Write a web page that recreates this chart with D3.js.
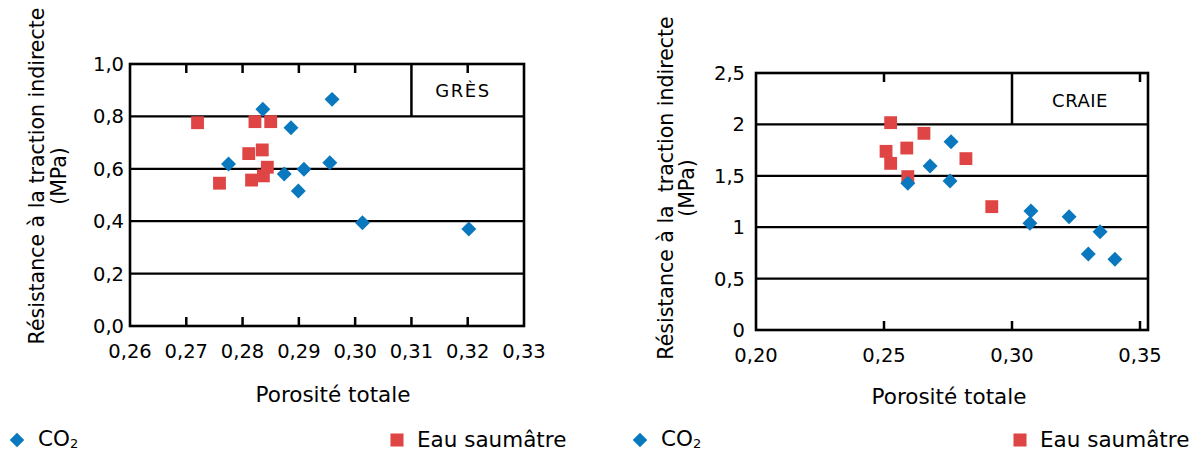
<!DOCTYPE html>
<html><head><meta charset="utf-8">
<script src="https://cdn.jsdelivr.net/npm/d3@7"></script>
<style>
body{margin:0;background:#fff;}
svg{display:block;font-family:"DejaVu Sans",sans-serif;}
</style></head>
<body>
<svg id="c" width="1202" height="452"></svg>
<script>
// ---- Data ----
const gresXTicks = [0.26,0.27,0.28,0.29,0.30,0.31,0.32,0.33];
const gresYTicks = [0,0.2,0.4,0.6,0.8,1.0];
const gresCO2 = [
  [0.2836,0.827],[0.2959,0.865],[0.2886,0.757],[0.2775,0.618],[0.2874,0.580],
  [0.2909,0.598],[0.2955,0.623],[0.2899,0.515],[0.3013,0.394],[0.3202,0.370]
];
const gresEau = [
  [0.2720,0.776],[0.2822,0.780],[0.2850,0.780],[0.2811,0.658],[0.2835,0.672],
  [0.2844,0.606],[0.2837,0.573],[0.2816,0.557],[0.2759,0.545]
];
const craieXTicks = [0.20,0.25,0.30,0.35];
const craieYTicks = [0,0.5,1,1.5,2,2.5];
const craieCO2 = [
  [0.2762,1.832],[0.2680,1.595],[0.2758,1.449],[0.2593,1.427],[0.3074,1.158],
  [0.3070,1.038],[0.3223,1.102],[0.3344,0.956],[0.3298,0.739],[0.3402,0.688]
];
const craieEau = [
  [0.2526,2.017],[0.2656,1.913],[0.2589,1.770],[0.2508,1.738],[0.2526,1.621],
  [0.2820,1.667],[0.2593,1.492],[0.2921,1.200]
];
const seriesNames = ["CO","Eau saumâtre"];
const yTitle = ["Résistance à la traction indirecte","Résistance à la\u00a0 traction indirecte"];
const xTitle = "Porosité totale";
const panelNames = ["GRÈS","CRAIE"];

const BLUE = "#0a78be", RED = "#e04545";
const svg = d3.select("#c");

function fmtX(v){ return v.toFixed(2).replace(".",","); }

function panel(opt){
  const g = svg.append("g");
  const {x,y,left,right,top,bottom} = opt;
  // gridlines
  g.selectAll("line.grid").data(opt.yTicks.filter(v=>v>opt.yTicks[0] && v<opt.yTicks[opt.yTicks.length-1]))
    .enter().append("line")
    .attr("x1",left).attr("x2",right).attr("y1",d=>y(d)).attr("y2",d=>y(d))
    .attr("stroke","#000").attr("stroke-width",2.2);
  // inner ticks top & bottom
  const inner = opt.xTicks.filter(v=>x(v)>left+3 && x(v)<right-3 && v!==opt.boxX);
  g.selectAll("line.tb").data(inner).enter().append("line")
    .attr("x1",d=>x(d)).attr("x2",d=>x(d)).attr("y1",top).attr("y2",top+9)
    .attr("stroke","#000").attr("stroke-width",2.5);
  g.selectAll("line.bt").data(opt.xTicks.filter(v=>x(v)>left+3 && x(v)<right-3)).enter().append("line")
    .attr("x1",d=>x(d)).attr("x2",d=>x(d)).attr("y1",bottom).attr("y2",bottom-9)
    .attr("stroke","#000").attr("stroke-width",2.5);
  // title box
  g.append("line").attr("x1",x(opt.boxX)).attr("x2",x(opt.boxX))
    .attr("y1",top).attr("y2",y(opt.boxY)).attr("stroke","#000").attr("stroke-width",2.5);
  g.append("text").attr("x",opt.nameX).attr("y",opt.nameY).attr("text-anchor","middle")
    .attr("font-size",18).attr("letter-spacing",opt.nameLS).text(opt.name);
  // frame
  g.append("rect").attr("x",left).attr("y",top).attr("width",right-left).attr("height",bottom-top)
    .attr("fill","none").attr("stroke","#000").attr("stroke-width",2.6);
  // y tick labels
  g.selectAll("text.yl").data(opt.yTicks).enter().append("text")
    .attr("x",opt.yLabX).attr("y",d=>y(d)+7).attr("text-anchor","end")
    .attr("font-size",19.5).text(opt.yFmt);
  // x tick labels
  g.selectAll("text.xl").data(opt.xTicks).enter().append("text")
    .attr("x",d=>x(d)).attr("y",opt.xLabY).attr("text-anchor","middle")
    .attr("font-size",19.5).text(d=>fmtX(d));
  // axis titles
  g.append("text").attr("x",(left+right)/2+opt.xTitleDx).attr("y",opt.xTitleY).attr("text-anchor","middle")
    .attr("font-size",21.5).text(xTitle);
  const yt = g.append("text").attr("transform",`translate(${opt.yTitleX},${opt.yTitleCY}) rotate(-90)`)
    .attr("text-anchor","middle").attr("font-size",opt.yTitleFS);
  yt.append("tspan").attr("x",0).attr("dy",0).text(opt.yTitle);
  yt.append("tspan").attr("x",0).attr("dy",opt.yTitleLH).text("(MPa)");
  // points
  const sq = d3.symbol().type(d3.symbolSquare).size(165);
  const dm = d3.symbol().type(d3.symbolSquare).size(112);
  g.selectAll("path.eau").data(opt.eau).enter().append("path")
    .attr("d",sq).attr("fill",RED)
    .attr("transform",d=>`translate(${x(d[0])},${y(d[1])})`);
  g.selectAll("path.co2").data(opt.co2).enter().append("path")
    .attr("d",dm).attr("fill",BLUE)
    .attr("transform",d=>`translate(${x(d[0])},${y(d[1])}) rotate(45)`);
  // legend
  const L = opt.legend;
  g.append("path").attr("d",d3.symbol().type(d3.symbolSquare).size(105)).attr("fill",BLUE)
    .attr("transform",`translate(${L.dx},440) rotate(45)`);
  const t1 = g.append("text").attr("x",L.dx+21).attr("y",446).attr("font-size",21.5);
  t1.append("tspan").text(seriesNames[0]);
  t1.append("tspan").attr("font-size",13).attr("dy",2).text("2");
  g.append("path").attr("d",d3.symbol().type(d3.symbolSquare).size(170)).attr("fill",RED)
    .attr("transform",`translate(${L.sx},440)`);
  g.append("text").attr("x",L.sx+20).attr("y",447).attr("font-size",21.5).text(seriesNames[1]);
}

panel({
  x: d3.scaleLinear().domain([0.26,0.33]).range([130,524]),
  y: d3.scaleLinear().domain([0,1]).range([326,64]),
  left:130,right:524,top:64,bottom:326,
  xTicks:gresXTicks,yTicks:gresYTicks,boxX:0.31,boxY:0.8,
  name:panelNames[0],nameX:463,nameY:97,nameLS:1.5,
  yLabX:124,yFmt:d=>d.toFixed(1).replace(".",","),xLabY:358,
  xTitleDx:6,xTitleY:402,yTitle:yTitle[0],yTitleFS:20.5,yTitleX:44,yTitleCY:176,yTitleLH:22,
  co2:gresCO2,eau:gresEau,legend:{dx:17,sx:397}
});
panel({
  x: d3.scaleLinear().domain([0.20,0.35]).range([756,1140]),
  y: d3.scaleLinear().domain([0,2.5]).range([330,73]),
  left:756,right:1148,top:73,bottom:330,
  xTicks:craieXTicks,yTicks:craieYTicks,boxX:0.30,boxY:2.0,
  name:panelNames[1],nameX:1080,nameY:107,nameLS:0.5,
  yLabX:745,yFmt:d=>String(d).replace(".",","),xLabY:362,
  xTitleDx:-3,xTitleY:404,yTitle:yTitle[1],yTitleFS:20.5,yTitleX:673,yTitleCY:188,yTitleLH:21,
  co2:craieCO2,eau:craieEau,legend:{dx:640,sx:1020}
});
</script>
</body></html>
